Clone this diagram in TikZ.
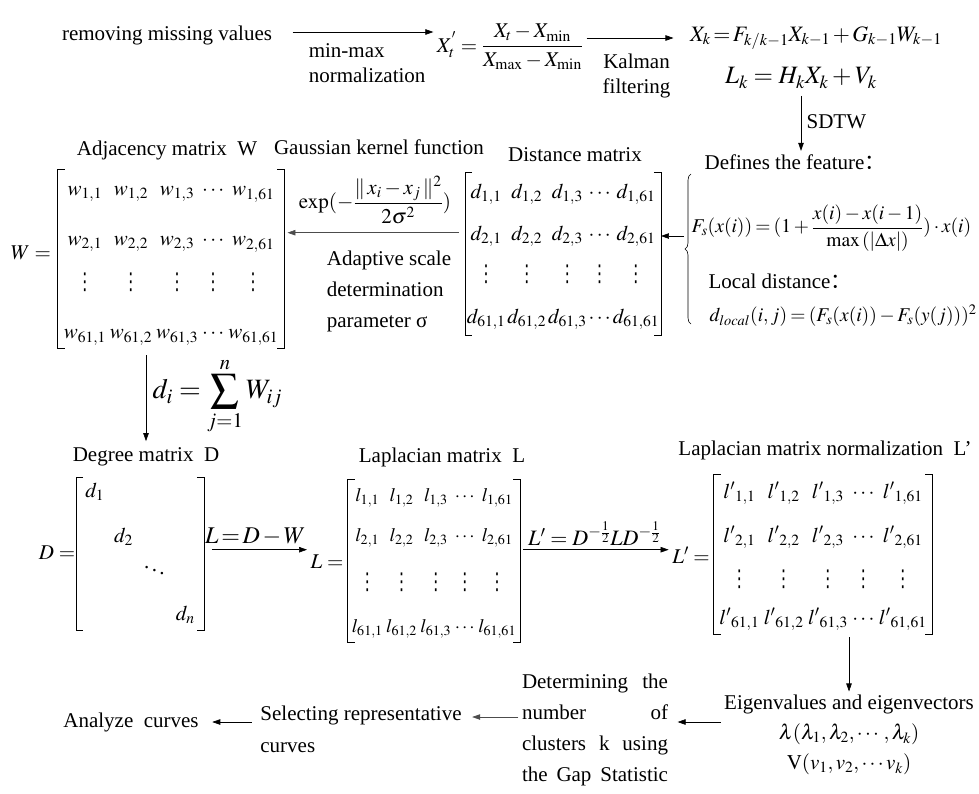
\documentclass[tikz,border=0pt]{standalone}
\usepackage{amsmath}
\usepackage{graphicx}
\usepackage{mathptmx}
\usepackage[no-math]{fontspec}
\setmainfont{Liberation Serif}
\newfontfamily\cjkfont{Noto Sans CJK SC}
\newfontfamily\symfont{DejaVu Sans}
\usetikzlibrary{arrows.meta,matrix,positioning,decorations.pathreplacing}

% square brackets round a matrix, #2 = extra height on top
\newcommand\sqbr[2]{%
  \draw[brk] ([xshift=7pt,yshift=#2]#1.north west) -- ([yshift=#2]#1.north west) -- (#1.south west) -- ([xshift=7pt]#1.south west);
  \draw[brk] ([xshift=-7pt,yshift=#2]#1.north east) -- ([yshift=#2]#1.north east) -- (#1.south east) -- ([xshift=-7pt]#1.south east);}
% tall vertical dots
\newcommand\vd{\lower5pt\hbox{\scalebox{1}[1.45]{\symfont\fontsize{16}{16}\selectfont ⋮}}}

\begin{document}
\begin{tikzpicture}[x=1pt, y=-1pt,
    font=\fontsize{21}{25}\selectfont,
    >={Triangle[length=8pt,width=5.5pt]},
    line width=0.6pt,
    norm/.style={->, draw, black},
    soft/.style={->, draw, black!70},
    brk/.style={draw, black, line width=0.6pt},
    big/.style={font=\fontsize{25}{30}\selectfont},
    mat/.style={matrix of math nodes, anchor=south,
      nodes={text height=13pt, text depth=6pt, inner xsep=1pt, inner ysep=2pt}}]

\useasboundingbox (0,0) rectangle (979,793);

% first row
\node (rmv) at (167,35) {removing missing values};
\node (xnorm) at (510,47) {$X^{'}_{t}=\dfrac{X_t-X_{\min}}{X_{\max}-X_{\min}}$};
\node (kal1) [font=\fontsize{22}{27}\selectfont] at (816,38) {$\thickmuskip=2mu\medmuskip=2mu X_k=F_{k/k-1}X_{k-1}+G_{k-1}W_{k-1}$};
\node (kal2) [big] at (801,78) {$L_k=H_kX_k+V_k$};
\draw [norm, shorten <=17pt] ([yshift=3pt]rmv.east) -- ([yshift=3pt]rmv.east -| xnorm.west)
  node[pos=0.58, below=8pt, align=left] {min-max\\normalization};
\draw [norm, shorten >=13pt] (xnorm.east |- kal1.west) -- (kal1.west)
  node[midway, below=12pt, align=center] {Kalman\\filtering};

% SDTW features
\node (feat) [anchor=west] at (701,162) {Defines the feature{\cjkfont ：}};
\node (fs) [anchor=west, font=\fontsize{19.5}{24}\selectfont] at (688,228) {$\thickmuskip=3mu F_s(x(i))=(1+\dfrac{x(i)-x(i-1)}{\max\,(|\Delta x|)})\cdot x(i)$};
\node (locd) [anchor=west] at (705,281) {Local distance{\cjkfont ：}};
\node (dloc) [anchor=west, font=\fontsize{19.5}{24}\selectfont] at (706,316) {$\thickmuskip=3mu d_{local}(i,j)=(F_s(x(i))-F_s(y(j)))^2$};
\draw [norm, shorten <=4pt] (kal2.south) -- (kal2.south |- feat.north) node[midway, right=2pt] {SDTW};
\draw [decorate, decoration={brace, amplitude=6pt}] (691,324) -- (691,174);
\coordinate (btip) at (684,236);

% distance matrix
\node (dtitle) at (575,155) {Distance matrix};
\matrix (dmat) [mat, column sep=0pt, inner xsep=0.5pt, row sep=19pt, inner ysep=3.5pt] at (563,335) {
  d_{1,1} & d_{1,2} & d_{1,3} & \cdots & d_{1,61}\\
  d_{2,1} & d_{2,2} & d_{2,3} & \cdots & d_{2,61}\\[-6pt]
  \vd & \vd & \vd & \vd & \vd\\[5pt]
  d_{61,1} & d_{61,2} & d_{61,3} & \cdots & d_{61,61}\\
};
\sqbr{dmat}{7pt}
\draw [norm] (btip) -- (btip -| dmat.east);

% gaussian kernel
\node (gtitle) at (379,147) {Gaussian kernel function};
\node (gexp) at (375,200) {$\exp(-\dfrac{\|\,x_i-x_j\,\|^2}{2\sigma^2})$};
\node (adap) [align=left, font=\fontsize{21}{31}\selectfont] at (389,291) {Adaptive scale\\determination\\parameter σ};

% adjacency matrix
\node (wtitle) at (167,150) {Adjacency matrix\ \ W};
\node (weq) at (31,253) {$W=$};
\matrix (wmat) [mat, column sep=2pt, inner xsep=5pt, row sep=27pt, inner ysep=1pt] at (171,348) {
  w_{1,1} & w_{1,2} & w_{1,3} & \cdots & w_{1,61}\\
  w_{2,1} & w_{2,2} & w_{2,3} & \cdots & w_{2,61}\\[-11pt]
  \vd & \vd & \vd & \vd & \vd\\[4pt]
  w_{61,1} & w_{61,2} & w_{61,3} & \cdots & w_{61,61}\\
};
\sqbr{wmat}{10.5pt}
\draw [soft, shorten <=6pt, shorten >=3pt] ([yshift=24.5pt]dmat.west) -- ([yshift=24.5pt]dmat.west -| wmat.east);

% degree matrix
\node (dgtitle) at (146,457) {Degree matrix\ \ D};
\draw [norm, shorten <=7pt, shorten >=3pt] (dgtitle.north |- wmat.south) -- (dgtitle.north)
  node[midway, right=3pt, font=\fontsize{28}{32}\selectfont] {$\displaystyle d_i=\sum_{j=1}^{n}W_{ij}$};
\node (deq) at (57,553) {$D=$};
\matrix (dgmat) [mat, column sep=8pt, inner xsep=8pt, row sep=22pt, inner ysep=1pt] at (140,630) {
  d_1 & & & \\
  & d_2 & & \\[-12pt]
  & & \ddots & \\
  & & & d_n \\
};
\sqbr{dgmat}{4.5pt}

% laplacian matrix
\node (ltitle) at (442,457) {Laplacian matrix\ \ L};
\node (leq) at (327,562) {$L=$};
\matrix (lmat) [mat, column sep=1.5pt, inner xsep=3pt, row sep=17pt, inner ysep=1pt,
    nodes={font=\fontsize{19}{23}\selectfont}] at (434,642) {
  l_{1,1} & l_{1,2} & l_{1,3} & \cdots & l_{1,61}\\
  l_{2,1} & l_{2,2} & l_{2,3} & \cdots & l_{2,61}\\[3pt]
  \vd & \vd & \vd & \vd & \vd\\[8pt]
  l_{61,1} & l_{61,2} & l_{61,3} & \cdots & l_{61,61}\\
};
\sqbr{lmat}{6.5pt}
\draw [norm, shorten <=8pt] ([yshift=6pt]dgmat.east) -- ([yshift=6pt]dgmat.east -| leq.west)
  node[midway, above=1pt, font=\fontsize{24}{28}\selectfont] {$L\mkern2mu{=}\mkern2mu D\mkern2mu{-}\mkern2mu W$};

% normalized laplacian
\node (lptitle) at (825,450) {Laplacian matrix normalization\ \ L’};
\node (lpeq) at (691,555) {$L'=$};
\matrix (lpmat) [mat, column sep=2.5pt, inner xsep=4.5pt, row sep=21pt, inner ysep=1.5pt] at (823,634) {
  {l'}_{1,1} & {l'}_{1,2} & {l'}_{1,3} & \cdots & {l'}_{1,61}\\
  {l'}_{2,1} & {l'}_{2,2} & {l'}_{2,3} & \cdots & {l'}_{2,61}\\[-5pt]
  \vd & \vd & \vd & \vd & \vd\\[-1pt]
  {l'}_{61,1} & {l'}_{61,2} & {l'}_{61,3} & \cdots & {l'}_{61,61}\\
};
\sqbr{lpmat}{7pt}
\draw [norm, shorten <=3pt] ([yshift=14pt]lmat.east) -- ([yshift=14pt]lmat.east -| lpeq.west)
  node[midway, above=1pt, font=\fontsize{22}{26}\selectfont] {$L'=D^{-\frac{1}{2}}LD^{-\frac{1}{2}}$};

% last row
\node (eig) [align=center, font=\fontsize{21}{30}\selectfont] at (849,735) {Eigenvalues and eigenvectors\\$\lambda(\lambda_1,\lambda_2,\cdots,\lambda_k)$\\$\mathrm{V}(v_1,v_2,\cdots v_k)$};
\node (det) [text width=146pt, align=left, font=\fontsize{21}{31}\selectfont] at (595,730) {Determining\hfill the\\number\hfill of\\clusters\hfill k\hfill using\\the\hfill Gap\hfill Statistic};
\node (sel) [align=left, font=\fontsize{21}{32}\selectfont] at (361,729) {Selecting representative\\curves};
\node (ana) at (131,722) {Analyze\ \ curves};
\draw [norm, shorten <=3pt] (eig.north |- lpmat.south) -- (eig.north);
\draw [norm, shorten >=6pt] ([yshift=13pt]eig.west) -- ([yshift=13pt]eig.west -| det.east);
\draw [soft, shorten >=7pt] ([yshift=13pt]det.west) -- ([yshift=13pt]det.west -| sel.east);
\draw [norm, shorten <=5pt, shorten >=10pt] ([yshift=7pt]sel.west) -- ([yshift=7pt]sel.west -| ana.east);

\end{tikzpicture}
\end{document}
